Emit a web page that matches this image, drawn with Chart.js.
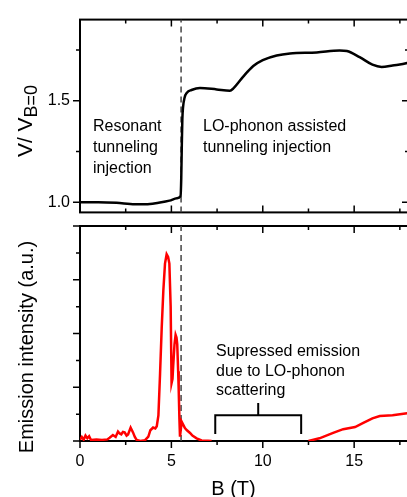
<!DOCTYPE html>
<html>
<head>
<meta charset="utf-8">
<script src="https://cdn.jsdelivr.net/npm/chart.js@4.4.0/dist/chart.umd.min.js"></script>
<style>
    html, body { margin: 0; padding: 0; background: #fff; overflow: hidden; }
    #wrap { position: relative; width: 412px; height: 497px; }
    #wrap canvas { position: absolute; left: 0; }
    #chartTop { top: 0; }
    #chartBot { top: 220px; }
</style>
</head>
<body>
<div id="wrap">
    <canvas id="chartTop" width="412" height="232"></canvas>
    <canvas id="chartBot" width="412" height="277"></canvas>
</div>
<script>
// ── Data ──────────────────────────────────────────────────────────────────────

// V / V(B=0) vs B (T)
const ratioB = [0, 1.0, 2.0, 3.0, 3.6, 4.3, 4.9, 5.3, 5.5, 5.54, 5.57, 5.6, 5.64, 5.72, 5.85, 6.1,
                6.56, 7.48, 8.2, 8.38, 8.93, 9.48, 10.0, 10.76, 11.49, 12.95, 14.2, 14.6, 15.3,
                16.0, 16.5, 17.1, 17.9, 18];
const ratioV = [1.0, 1.0, 0.997, 0.99, 0.99, 0.998, 1.008, 1.02, 1.03, 1.12, 1.28, 1.41, 1.47, 1.515, 1.54, 1.553,
                1.563, 1.556, 1.55, 1.56, 1.619, 1.671, 1.70, 1.723, 1.733, 1.738, 1.748, 1.745, 1.715,
                1.678, 1.667, 1.674, 1.686, 1.69];

// Emission intensity (a.u.) vs B (T); null = not visible (suppressed)
const emisB = [0, 0.1, 0.2, 0.3, 0.4, 0.5, 0.6, 0.9, 1.2, 1.5, 1.62, 1.8, 1.95, 2.08, 2.17, 2.26, 2.35,
               2.44, 2.55, 2.63, 2.77, 2.9, 3.0, 3.1, 3.3, 3.56, 3.74, 3.85, 4.0, 4.12, 4.2, 4.29,
               4.38, 4.47, 4.56, 4.65, 4.74, 4.82, 4.89, 4.96, 5.01, 5.06, 5.1, 5.17, 5.23, 5.28,
               5.32, 5.37, 5.4, 5.44, 5.47, 5.52, 5.56, 5.65, 5.74, 5.85, 6.02, 6.15, 6.38, 6.65,
               7.0, 7.2, 9.8, 12.5, 13.1, 13.85, 14.4, 15.05, 15.5, 16.0, 16.4, 17.1, 17.9, 18];
const emisI = [0.05, 0.15, 0.05, 0.2, 0.1, 0.18, 0.04, 0.06, 0.04, 0.06, 0.12, 0.22, 0.15, 0.35, 0.28, 0.25, 0.34,
               0.32, 0.2, 0.24, 0.5, 0.32, 0.15, 0.04, 0, 0.03, 0.16, 0.4, 0.5, 0.47, 0.55, 0.95,
               2.5, 4.2, 5.6, 6.6, 6.95, 6.85, 6.6, 5.0, 2.15, 2.3, 2.8, 3.6, 3.95, 3.85,
               3.6, 2.6, 1.9, 0.8, 0.16, 0.45, 0.72, 0.6, 0.48, 0.4, 0.3, 0.2, 0.1, 0.02,
               0.01, 0, null, 0, 0.1, 0.3, 0.44, 0.52, 0.67, 0.84, 0.93, 0.96, 1.03, 1.04];

// dashed marker at the resonance edge
const markerB = 5.53;

// bracket over the suppressed region
const bracketB = [7.4, 7.4, 9.75, 9.75, 9.75, 12.1, 12.1];
const bracketI = [0.26, 0.96, 0.96, 1.41, 0.96, 0.96, 0.26];

// ticks
const xMajor    = [0, 5, 10, 15];
const xMinor    = [2.5, 7.5, 12.5, 17.5];
const yTopMajor = [1.0, 1.5];
const yTopMinor = [1.25, 1.75];
const yBotMajor = [0, 2, 4, 6, 8];
const yBotMinor = [1, 3, 5, 7];

// ── Helpers ──────────────────────────────────────────────────────────────────

const FONT = "'Liberation Sans', Arial, sans-serif";
Chart.defaults.font.family = FONT;
Chart.defaults.color = '#000';

function pts(xs, ys) {
    return xs.map((x, i) => ({ x, y: ys[i] }));
}

function fixedTicks(values) {
    return scale => { scale.ticks = values.map(v => ({ value: v })); };
}

function line(ctx, x0, y0, x1, y1) {
    ctx.moveTo(x0, y0);
    ctx.lineTo(x1, y1);
}

function textLines(ctx, lines, x, y0, step) {
    ctx.save();
    ctx.font = `16px ${FONT}`;
    ctx.fillStyle = '#000';
    ctx.textAlign = 'left';
    ctx.textBaseline = 'alphabetic';
    lines.forEach((t, i) => ctx.fillText(t, x, y0 + i * step));
    ctx.restore();
}

// ── Plugins ──────────────────────────────────────────────────────────────────

const frameTop = {
    id: 'frameTop',
    beforeDatasetsDraw(chart) {
        const { ctx, chartArea: a, scales: { x, y } } = chart;
        ctx.save();
        ctx.strokeStyle = '#000';
        ctx.lineWidth = 2;
        ctx.strokeRect(a.left, a.top, a.right - a.left, a.bottom - a.top);
        ctx.lineWidth = 1.5;
        ctx.beginPath();
        [[xMajor, 7], [xMinor, 4]].forEach(([vals, len]) => vals.forEach(v => {
            const p = x.getPixelForValue(v);
            line(ctx, p, a.bottom, p, a.bottom - len);
            line(ctx, p, a.top, p, a.top + len);
        }));
        [[yTopMajor, 7], [yTopMinor, 4]].forEach(([vals, len]) => vals.forEach(v => {
            const p = y.getPixelForValue(v);
            line(ctx, a.left, p, a.left - len, p);
            line(ctx, a.right, p, a.right - len, p);
        }));
        ctx.stroke();
        ctx.restore();
    },
    afterDatasetsDraw(chart) {
        const { ctx } = chart;
        textLines(ctx, ['Resonant', 'tunneling', 'injection'], 93, 131, 21);
        textLines(ctx, ['LO-phonon assisted', 'tunneling injection'], 203, 131, 21);

        // y title with subscript
        ctx.save();
        ctx.translate(32, 121);
        ctx.rotate(-Math.PI / 2);
        ctx.fillStyle = '#000';
        ctx.textBaseline = 'alphabetic';
        ctx.textAlign = 'left';
        ctx.font = `21px ${FONT}`;
        const w1 = ctx.measureText('V/ V').width;
        ctx.font = `18px ${FONT}`;
        const w2 = ctx.measureText('B=0').width;
        const start = -(w1 + w2) / 2;
        ctx.font = `21px ${FONT}`;
        ctx.fillText('V/ V', start, 0);
        ctx.font = `18px ${FONT}`;
        ctx.fillText('B=0', start + w1, 5);
        ctx.restore();
    }
};

const frameBot = {
    id: 'frameBot',
    beforeDatasetsDraw(chart) {
        const { ctx, chartArea: a, scales: { x, y } } = chart;
        ctx.save();
        ctx.strokeStyle = '#000';
        ctx.lineWidth = 2;
        ctx.beginPath();
        ctx.moveTo(a.right, a.top);
        ctx.lineTo(a.left, a.top);
        ctx.lineTo(a.left, a.bottom);
        ctx.lineTo(a.right, a.bottom);
        ctx.stroke();
        ctx.lineWidth = 1.5;
        ctx.beginPath();
        [[xMajor, 7], [xMinor, 4]].forEach(([vals, len]) => vals.forEach(v => {
            const p = x.getPixelForValue(v);
            line(ctx, p, a.bottom, p, a.bottom + len);
            line(ctx, p, a.top, p, a.top + len);
        }));
        [[yBotMajor, 7], [yBotMinor, 4]].forEach(([vals, len]) => vals.forEach(v => {
            const p = y.getPixelForValue(v);
            line(ctx, a.left, p, a.left - len, p);
        }));
        ctx.stroke();
        ctx.restore();
    },
    afterDatasetsDraw(chart) {
        const { ctx } = chart;
        textLines(ctx, ['Supressed emission', 'due to LO-phonon', 'scattering'], 216, 136, 19.5);

        ctx.save();
        ctx.fillStyle = '#000';
        ctx.font = `20px ${FONT}`;
        ctx.textAlign = 'center';
        ctx.textBaseline = 'alphabetic';
        ctx.fillText('B (T)', 233.5, 275);

        ctx.translate(33, 127);
        ctx.rotate(-Math.PI / 2);
        ctx.fillText('Emission intensity (a.u.)', 0, 0);
        ctx.restore();
    }
};

// ── Charts ───────────────────────────────────────────────────────────────────

const noGrid = { display: false, drawTicks: false };
const noBorder = { display: false };

const chartTop = new Chart(document.getElementById('chartTop'), {
    type: 'line',
    data: {
        datasets: [
            { data: pts(ratioB, ratioV), borderColor: '#000', borderWidth: 2.5,
              pointRadius: 0, cubicInterpolationMode: 'monotone', order: 1 },
            { data: pts([markerB, markerB], [0.95, 1.9]), borderColor: '#444', borderWidth: 1.5,
              borderDash: [6, 4], pointRadius: 0, order: 2 }
        ]
    },
    options: {
        responsive: false,
        animation: false,
        layout: { padding: { top: 11, right: 3, left: 0, bottom: 0 } },
        plugins: { legend: { display: false }, tooltip: { enabled: false } },
        scales: {
            x: {
                type: 'linear', min: 0, max: 18,
                afterBuildTicks: fixedTicks(xMajor),
                ticks: { display: false },
                grid: noGrid, border: noBorder,
                afterFit: s => { s.height = 6; }
            },
            y: {
                min: 0.95, max: 1.9,
                afterBuildTicks: fixedTicks(yTopMajor),
                ticks: { callback: v => Number(v).toFixed(1), font: { size: 16 }, padding: 10 },
                grid: noGrid, border: noBorder,
                afterFit: s => { s.width = 80; }
            }
        }
    },
    plugins: [frameTop]
});

const chartBot = new Chart(document.getElementById('chartBot'), {
    type: 'line',
    data: {
        datasets: [
            { data: pts(emisB, emisI), borderColor: '#ff0000', borderWidth: 2.5,
              pointRadius: 0, spanGaps: false, order: 1 },
            { data: pts(bracketB, bracketI), borderColor: '#000', borderWidth: 2,
              pointRadius: 0, order: 2 },
            { data: pts([markerB, markerB], [0, 8]), borderColor: '#444', borderWidth: 1.5,
              borderDash: [6, 4], pointRadius: 0, order: 3 }
        ]
    },
    options: {
        responsive: false,
        animation: false,
        layout: { padding: { top: 6, right: 3, left: 0, bottom: 0 } },
        plugins: { legend: { display: false }, tooltip: { enabled: false } },
        scales: {
            x: {
                type: 'linear', min: 0, max: 18,
                afterBuildTicks: fixedTicks(xMajor),
                ticks: { font: { size: 16 }, padding: 11, maxRotation: 0 },
                grid: noGrid, border: noBorder,
                afterFit: s => { s.height = 56; }
            },
            y: {
                min: 0, max: 8,
                afterBuildTicks: fixedTicks(yBotMajor),
                ticks: { display: false },
                grid: noGrid, border: noBorder,
                afterFit: s => { s.width = 80; }
            }
        }
    },
    plugins: [frameBot]
});
</script>
</body>
</html>
